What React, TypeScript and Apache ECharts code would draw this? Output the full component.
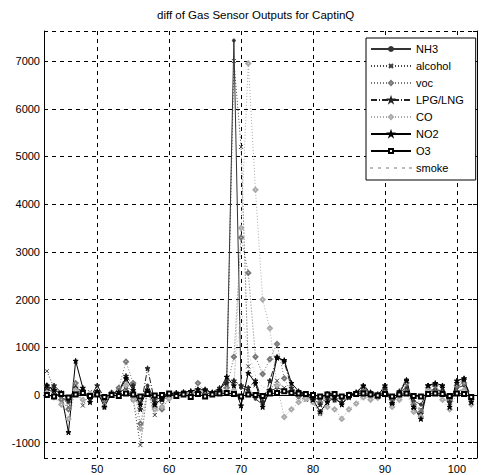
import React, { useEffect, useRef } from "react";
import * as echarts from "echarts";

const titleText = "diff of Gas Sensor Outputs for CaptinQ";
const seriesNames = ["NH3", "alcohol", "voc", "LPG/LNG", "CO", "NO2", "O3", "smoke"];

const sampleX = [
  43, 44, 45, 46, 47, 48, 49, 50, 51, 52,
  53, 54, 55, 56, 57, 58, 59, 60, 61, 62,
  63, 64, 65, 66, 67, 68, 69, 70, 71, 72,
  73, 74, 75, 76, 77, 78, 79, 80, 81, 82,
  83, 84, 85, 86, 87, 88, 89, 90, 91, 92,
  93, 94, 95, 96, 97, 98, 99, 100, 101, 102,
];

const nh3 = [
  120, 60, -40, -150, 80, 50, -60, 30, -50, 20,
  40, 150, -80, -150, 200, -100, -50, 20, -30, 40,
  30, 80, 20, 50, 100, 300, 7430, 150, 100, -80,
  -200, 80, 150, 100, 50, 60, 30, -50, -100, 40,
  20, -60, 30, 40, 120, 50, -30, 90, -80, 60,
  150, -120, -200, 90, 120, 80, -60, 150, 200, -80,
];
const alcohol = [
  500, 150, 50, -250, 200, -220, 60, 30, -180, 40,
  100, 300, -100, -1050, 100, -420, -200, 40, 20, 60,
  50, 30, 60, 20, 80, 200, 7000, 5200, 600, 200,
  -100, 100, 300, 150, 40, -50, -100, -150, -400, -120,
  -60, -100, -40, 20, 80, -50, 20, 60, -150, 40,
  100, -250, -300, 60, 100, -50, -200, 120, 80, -150,
];
const voc = [
  200, 100, -100, -300, 250, 100, -40, 60, -100, 50,
  150, 700, 250, -600, 80, -250, -300, -60, 30, 50,
  20, 250, 60, 30, 100, 150, 800, 3300, 2560, 800,
  440, 750, 1070, 350, 50, -30, -60, -100, -150, -80,
  -100, -50, -20, 30, 150, 40, -40, 120, -100, 30,
  250, -200, -350, 150, 200, 30, -120, 200, 250, -100,
];
const lpg = [
  100, 200, 50, -100, 150, 80, -50, 200, -60, 30,
  80, 400, 200, -300, 560, -150, -100, 30, 50, 40,
  80, 100, 120, 60, 150, 250, 300, 200, 150, 300,
  -150, 300, 800, 700, 150, 50, -30, -80, -200, -60,
  -100, -150, -50, 40, 200, 60, 20, 150, -200, 80,
  320, -300, -400, 200, 230, 150, -150, 250, 320, -50,
];
const co = [
  50, -50, -200, -500, 100, -100, 30, 50, -250, 20,
  60, 200, -100, -700, 50, -300, -250, -80, 20, 30,
  40, 100, 50, 20, 50, 80, 100, 3500, 6950, 4300,
  2000, 1400, 200, -460, -300, -150, -80, -150, -380, -250,
  -300, -500, -300, -180, -50, -100, -60, 20, -250, -100,
  50, -350, -450, 100, 50, -100, -300, 50, 100, -200,
];
const no2 = [
  200, 100, 30, -780, 715, 150, -150, 80, -250, 40,
  60, 350, 100, -200, 100, -200, -80, 20, 40, 60,
  80, 120, 100, 50, 100, 380, 200, -220, 460, 250,
  -250, 100, 780, 730, 250, 80, 20, -100, -350, -150,
  -50, -200, -20, 60, 190, 40, -20, 200, -170, 50,
  300, -250, -500, 200, 250, 200, -250, 300, 350, -150,
];
const o3 = [
  0, -30, 20, -50, 10, 40, -20, 10, -40, 0,
  -20, 30, 10, -30, 20, -10, 0, 30, -20, 10,
  -40, 20, -30, 10, 30, 40, 20, -30, 10, 0,
  -20, 30, 40, 80, 40, 30, 20, 0, -30, 10,
  20, -30, 0, 20, 30, 10, -10, 20, -30, 10,
  30, -20, -30, 20, 30, 20, -20, 30, 20, -40,
];
const smoke = [
  80, 40, -60, -200, 150, 40, -30, 20, -80, 20,
  40, 200, 60, -300, 60, -120, -100, 20, 10, 30,
  20, 60, 30, 20, 40, 100, 300, 1800, 900, 400,
  150, 200, 300, 100, 30, -20, -30, -60, -120, -50,
  -60, -80, -40, 10, 60, 20, -20, 50, -80, 20,
  100, -100, -150, 60, 80, 40, -80, 80, 100, -60,
];

const seriesValues = [nh3, alcohol, voc, lpg, co, no2, o3, smoke];

const X_MIN = 42.6;
const X_MAX = 102.8;
const Y_MIN = -1320;
const Y_MAX = 7630;

const FONT = "'Liberation Sans', Arial, Helvetica, sans-serif";
const STAR =
  "path://M5,0L6.2,3.8L10,3.8L6.9,6.2L8.1,10L5,7.6L1.9,10L3.1,6.2L0,3.8L3.8,3.8Z";
const CROSS = "path://M0,0L10,10M10,0L0,10";
const DOTS_ICON =
  "path://M0,0h1v0.2h-1zM8,0h1v0.2h-1zM16,0h1v0.2h-1zM24,0h1v0.2h-1zM32,0h1v0.2h-1zM39,0h1v0.2h-1z";

const styles: any[] = [
  { color: "#333", dash: "solid", symbol: "circle", size: 3 },
  { color: "#444", dash: [1, 2], symbol: CROSS, size: 4 },
  { color: "#777", dash: [1, 2], symbol: "emptyDiamond", size: 4 },
  { color: "#222", dash: [6, 2, 1, 2], symbol: STAR, size: 5 },
  { color: "#aaa", dash: [1, 2], symbol: "emptyDiamond", size: 4 },
  { color: "#000", dash: "solid", symbol: STAR, size: 5 },
  { color: "#000", dash: "solid", symbol: "emptyRect", size: 4 },
  { color: "#bbb", dash: [1, 3], symbol: "none", size: 0 },
];

export default function App() {
  const ref = useRef<HTMLDivElement>(null);

  useEffect(() => {
    if (!ref.current) return;
    const chart = echarts.init(ref.current, null, { renderer: "svg" });

    const series = seriesNames.map((name, k) => {
      const st = styles[k];
      return {
        name,
        type: "line",
        data: sampleX.map((x, i) => [x, seriesValues[k][i]]),
        symbol: st.symbol,
        symbolSize: st.size,
        showSymbol: st.symbol !== "none",
        lineStyle: { color: st.color, width: 1, type: st.dash },
        itemStyle: { color: st.color, borderColor: st.color, borderWidth: 1 },
        emphasis: { disabled: true },
        z: 2,
      };
    });

    const axisLineStyle = { show: true, lineStyle: { color: "#000", width: 1 } };
    const tickStyle = { show: true, inside: true, length: 4, lineStyle: { color: "#000" } };
    const labelStyle = {
      color: "#000",
      fontSize: 11,
      fontFamily: FONT,
      showMinLabel: false,
      showMaxLabel: false,
      formatter: (v: number) => String(v),
    };
    const gridLine = { show: true, lineStyle: { color: "#000", type: [4, 4], width: 1 } };

    const legendData = seriesNames.map((n) =>
      n === "smoke" ? { name: n, icon: DOTS_ICON, itemStyle: { color: "#999" } } : { name: n }
    );

    chart.setOption({
      animation: false,
      backgroundColor: "#fff",
      title: {
        text: titleText,
        left: 157,
        top: 9,
        padding: 0,
        textStyle: { fontSize: 11.5, fontWeight: "normal", color: "#000", fontFamily: FONT },
      },
      grid: { left: 44, right: 4, top: 31, bottom: 17, containLabel: false },
      legend: {
        data: legendData,
        orient: "vertical",
        left: 366,
        top: 38,
        backgroundColor: "#fff",
        borderColor: "#000",
        borderWidth: 1,
        borderRadius: 0,
        padding: [5, 12, 6, 4],
        itemGap: 5,
        itemWidth: 40,
        itemHeight: 5,
        selectedMode: false,
        textStyle: { fontSize: 11, color: "#000", fontFamily: FONT, lineHeight: 12 },
        z: 10,
      },
      xAxis: [
        {
          type: "value",
          min: X_MIN,
          max: X_MAX,
          splitNumber: 6,
          position: "bottom",
          axisLine: axisLineStyle,
          axisTick: tickStyle,
          axisLabel: { ...labelStyle, margin: 5 },
          splitLine: gridLine,
        },
        {
          type: "value",
          min: X_MIN,
          max: X_MAX,
          splitNumber: 6,
          position: "top",
          axisLine: axisLineStyle,
          axisTick: tickStyle,
          axisLabel: { show: false },
          splitLine: { show: false },
        },
      ],
      yAxis: [
        {
          type: "value",
          min: Y_MIN,
          max: Y_MAX,
          splitNumber: 9,
          position: "left",
          axisLine: axisLineStyle,
          axisTick: tickStyle,
          axisLabel: { ...labelStyle, margin: 4 },
          splitLine: gridLine,
        },
        {
          type: "value",
          min: Y_MIN,
          max: Y_MAX,
          splitNumber: 9,
          position: "right",
          axisLine: axisLineStyle,
          axisTick: tickStyle,
          axisLabel: { show: false },
          splitLine: { show: false },
        },
      ],
      series,
    });

    return () => chart.dispose();
  }, []);

  return (
    <div
      ref={ref}
      style={{ position: "fixed", left: 0, top: 0, width: 481, height: 475, background: "#fff" }}
    />
  );
}
